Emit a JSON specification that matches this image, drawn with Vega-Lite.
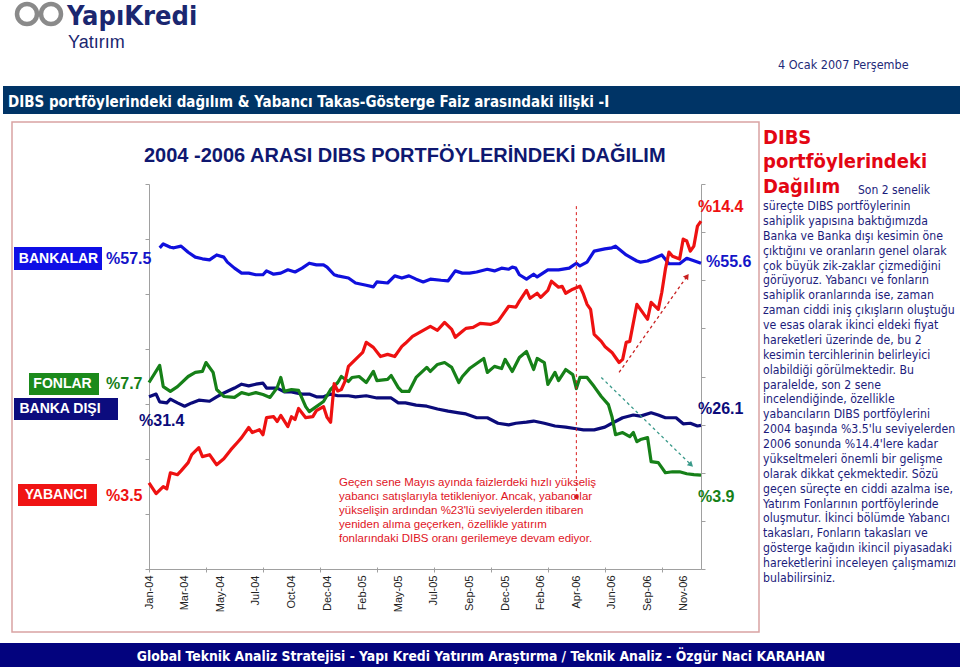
{
  "$schema": "https://vega.github.io/schema/vega-lite/v6.json",
  "width": 552,
  "height": 385,
  "autosize": {"type": "none"},
  "padding": {"left": 149, "top": 184, "right": 259, "bottom": 98},
  "background": "white",
  "config": {"view": {"stroke": null}, "font": "Liberation Sans", "axis": {"labelOverlap": false}},
  "data": {"values": [{}]},
  "datasets": {
    "series": [
      {"s":"BANKALAR","w":3,"v":58.4},{"s":"BANKALAR","w":4,"v":59.1},{"s":"BANKALAR","w":6,"v":58.5},{"s":"BANKALAR","w":7,"v":58.4},{"s":"BANKALAR","w":9,"v":58.7},{"s":"BANKALAR","w":11,"v":57.6},{"s":"BANKALAR","w":13,"v":56.7},{"s":"BANKALAR","w":15,"v":56.4},{"s":"BANKALAR","w":17,"v":56.2},{"s":"BANKALAR","w":19,"v":57.1},{"s":"BANKALAR","w":21,"v":56.7},{"s":"BANKALAR","w":22,"v":55.8},{"s":"BANKALAR","w":24,"v":54.7},{"s":"BANKALAR","w":26,"v":53.8},{"s":"BANKALAR","w":28,"v":53.8},{"s":"BANKALAR","w":30,"v":53.5},{"s":"BANKALAR","w":32,"v":53.5},{"s":"BANKALAR","w":33,"v":54.2},{"s":"BANKALAR","w":35,"v":53.6},{"s":"BANKALAR","w":37,"v":53.8},{"s":"BANKALAR","w":39,"v":54.4},{"s":"BANKALAR","w":41,"v":54.0},{"s":"BANKALAR","w":43,"v":54.7},{"s":"BANKALAR","w":45,"v":55.6},{"s":"BANKALAR","w":47,"v":55.3},{"s":"BANKALAR","w":49,"v":55.3},{"s":"BANKALAR","w":50,"v":54.9},{"s":"BANKALAR","w":52,"v":53.5},{"s":"BANKALAR","w":53,"v":53.3},{"s":"BANKALAR","w":56,"v":52.9},{"s":"BANKALAR","w":58,"v":52.0},{"s":"BANKALAR","w":61,"v":51.6},{"s":"BANKALAR","w":63,"v":51.3},{"s":"BANKALAR","w":64,"v":52.2},{"s":"BANKALAR","w":67,"v":52.0},{"s":"BANKALAR","w":69,"v":53.3},{"s":"BANKALAR","w":71,"v":52.9},{"s":"BANKALAR","w":73,"v":53.3},{"s":"BANKALAR","w":75,"v":52.7},{"s":"BANKALAR","w":77,"v":52.2},{"s":"BANKALAR","w":79,"v":52.7},{"s":"BANKALAR","w":82,"v":52.5},{"s":"BANKALAR","w":84,"v":52.4},{"s":"BANKALAR","w":86,"v":54.2},{"s":"BANKALAR","w":88,"v":53.8},{"s":"BANKALAR","w":90,"v":53.8},{"s":"BANKALAR","w":92,"v":54.0},{"s":"BANKALAR","w":95,"v":54.5},{"s":"BANKALAR","w":97,"v":54.2},{"s":"BANKALAR","w":99,"v":54.7},{"s":"BANKALAR","w":101,"v":54.5},{"s":"BANKALAR","w":102,"v":54.9},{"s":"BANKALAR","w":103,"v":54.7},{"s":"BANKALAR","w":104,"v":53.5},{"s":"BANKALAR","w":106,"v":52.7},{"s":"BANKALAR","w":108,"v":53.6},{"s":"BANKALAR","w":109,"v":53.1},{"s":"BANKALAR","w":112,"v":54.4},{"s":"BANKALAR","w":115,"v":54.4},{"s":"BANKALAR","w":118,"v":54.7},{"s":"BANKALAR","w":120,"v":55.6},{"s":"BANKALAR","w":121,"v":55.1},{"s":"BANKALAR","w":123,"v":55.8},{"s":"BANKALAR","w":125,"v":57.8},{"s":"BANKALAR","w":128,"v":58.2},{"s":"BANKALAR","w":130,"v":58.4},{"s":"BANKALAR","w":131,"v":58.7},{"s":"BANKALAR","w":134,"v":57.1},{"s":"BANKALAR","w":137,"v":56.0},{"s":"BANKALAR","w":138,"v":55.8},{"s":"BANKALAR","w":140,"v":56.0},{"s":"BANKALAR","w":144,"v":57.1},{"s":"BANKALAR","w":146,"v":55.5},{"s":"BANKALAR","w":149,"v":55.5},{"s":"BANKALAR","w":151,"v":56.5},{"s":"BANKALAR","w":155,"v":55.6},
      {"s":"BANKA DIŞI","w":0,"v":31.3},{"s":"BANKA DIŞI","w":2,"v":31.8},{"s":"BANKA DIŞI","w":3,"v":30.4},{"s":"BANKA DIŞI","w":5,"v":30.2},{"s":"BANKA DIŞI","w":6,"v":30.9},{"s":"BANKA DIŞI","w":8,"v":30.2},{"s":"BANKA DIŞI","w":10,"v":29.6},{"s":"BANKA DIŞI","w":12,"v":30.2},{"s":"BANKA DIŞI","w":14,"v":30.7},{"s":"BANKA DIŞI","w":17,"v":30.5},{"s":"BANKA DIŞI","w":19,"v":31.3},{"s":"BANKA DIŞI","w":21,"v":32.0},{"s":"BANKA DIŞI","w":24,"v":32.9},{"s":"BANKA DIŞI","w":26,"v":33.6},{"s":"BANKA DIŞI","w":28,"v":33.3},{"s":"BANKA DIŞI","w":30,"v":33.6},{"s":"BANKA DIŞI","w":32,"v":33.8},{"s":"BANKA DIŞI","w":33,"v":32.9},{"s":"BANKA DIŞI","w":36,"v":32.9},{"s":"BANKA DIŞI","w":38,"v":32.2},{"s":"BANKA DIŞI","w":40,"v":32.2},{"s":"BANKA DIŞI","w":43,"v":31.8},{"s":"BANKA DIŞI","w":45,"v":31.8},{"s":"BANKA DIŞI","w":47,"v":31.3},{"s":"BANKA DIŞI","w":49,"v":31.3},{"s":"BANKA DIŞI","w":51,"v":31.8},{"s":"BANKA DIŞI","w":53,"v":31.5},{"s":"BANKA DIŞI","w":56,"v":31.5},{"s":"BANKA DIŞI","w":58,"v":31.3},{"s":"BANKA DIŞI","w":61,"v":31.5},{"s":"BANKA DIŞI","w":64,"v":31.1},{"s":"BANKA DIŞI","w":68,"v":31.1},{"s":"BANKA DIŞI","w":70,"v":30.2},{"s":"BANKA DIŞI","w":72,"v":30.2},{"s":"BANKA DIŞI","w":75,"v":29.8},{"s":"BANKA DIŞI","w":78,"v":29.6},{"s":"BANKA DIŞI","w":81,"v":29.1},{"s":"BANKA DIŞI","w":84,"v":28.7},{"s":"BANKA DIŞI","w":87,"v":28.4},{"s":"BANKA DIŞI","w":89,"v":28.2},{"s":"BANKA DIŞI","w":92,"v":27.5},{"s":"BANKA DIŞI","w":95,"v":27.5},{"s":"BANKA DIŞI","w":98,"v":26.5},{"s":"BANKA DIŞI","w":101,"v":26.2},{"s":"BANKA DIŞI","w":103,"v":26.5},{"s":"BANKA DIŞI","w":106,"v":26.7},{"s":"BANKA DIŞI","w":108,"v":26.9},{"s":"BANKA DIŞI","w":111,"v":26.5},{"s":"BANKA DIŞI","w":114,"v":26.0},{"s":"BANKA DIŞI","w":117,"v":25.8},{"s":"BANKA DIŞI","w":120,"v":25.5},{"s":"BANKA DIŞI","w":122,"v":25.3},{"s":"BANKA DIŞI","w":125,"v":25.3},{"s":"BANKA DIŞI","w":128,"v":25.8},{"s":"BANKA DIŞI","w":130,"v":26.5},{"s":"BANKA DIŞI","w":133,"v":27.5},{"s":"BANKA DIŞI","w":136,"v":28.0},{"s":"BANKA DIŞI","w":138,"v":27.8},{"s":"BANKA DIŞI","w":141,"v":28.4},{"s":"BANKA DIŞI","w":143,"v":28.0},{"s":"BANKA DIŞI","w":145,"v":27.5},{"s":"BANKA DIŞI","w":148,"v":27.5},{"s":"BANKA DIŞI","w":150,"v":26.4},{"s":"BANKA DIŞI","w":152,"v":26.5},{"s":"BANKA DIŞI","w":154,"v":26.0},{"s":"BANKA DIŞI","w":155,"v":26.1},
      {"s":"FONLAR","w":0,"v":7.75},{"s":"FONLAR","w":3,"v":8.46},{"s":"FONLAR","w":4,"v":7.58},{"s":"FONLAR","w":6,"v":7.38},{"s":"FONLAR","w":8,"v":7.58},{"s":"FONLAR","w":11,"v":8.0},{"s":"FONLAR","w":13,"v":8.17},{"s":"FONLAR","w":15,"v":8.21},{"s":"FONLAR","w":16,"v":8.58},{"s":"FONLAR","w":18,"v":8.17},{"s":"FONLAR","w":19,"v":7.46},{"s":"FONLAR","w":21,"v":7.17},{"s":"FONLAR","w":24,"v":7.13},{"s":"FONLAR","w":26,"v":7.33},{"s":"FONLAR","w":28,"v":7.25},{"s":"FONLAR","w":30,"v":7.33},{"s":"FONLAR","w":32,"v":7.25},{"s":"FONLAR","w":34,"v":7.13},{"s":"FONLAR","w":36,"v":7.54},{"s":"FONLAR","w":37,"v":7.96},{"s":"FONLAR","w":38,"v":7.38},{"s":"FONLAR","w":40,"v":7.46},{"s":"FONLAR","w":42,"v":7.42},{"s":"FONLAR","w":44,"v":6.75},{"s":"FONLAR","w":45,"v":6.54},{"s":"FONLAR","w":47,"v":6.75},{"s":"FONLAR","w":49,"v":6.96},{"s":"FONLAR","w":51,"v":7.46},{"s":"FONLAR","w":53,"v":7.75},{"s":"FONLAR","w":54,"v":8.0},{"s":"FONLAR","w":56,"v":7.79},{"s":"FONLAR","w":57,"v":7.96},{"s":"FONLAR","w":59,"v":8.0},{"s":"FONLAR","w":61,"v":7.75},{"s":"FONLAR","w":63,"v":8.21},{"s":"FONLAR","w":64,"v":7.83},{"s":"FONLAR","w":67,"v":7.88},{"s":"FONLAR","w":68,"v":8.04},{"s":"FONLAR","w":70,"v":7.54},{"s":"FONLAR","w":71,"v":7.38},{"s":"FONLAR","w":73,"v":7.38},{"s":"FONLAR","w":75,"v":7.96},{"s":"FONLAR","w":78,"v":8.38},{"s":"FONLAR","w":79,"v":8.21},{"s":"FONLAR","w":81,"v":8.5},{"s":"FONLAR","w":83,"v":8.58},{"s":"FONLAR","w":85,"v":8.38},{"s":"FONLAR","w":87,"v":7.75},{"s":"FONLAR","w":88,"v":8.0},{"s":"FONLAR","w":90,"v":8.33},{"s":"FONLAR","w":92,"v":8.54},{"s":"FONLAR","w":94,"v":8.75},{"s":"FONLAR","w":95,"v":8.17},{"s":"FONLAR","w":97,"v":8.42},{"s":"FONLAR","w":99,"v":8.33},{"s":"FONLAR","w":100,"v":8.71},{"s":"FONLAR","w":102,"v":8.21},{"s":"FONLAR","w":104,"v":8.79},{"s":"FONLAR","w":106,"v":9.04},{"s":"FONLAR","w":108,"v":8.29},{"s":"FONLAR","w":109,"v":8.75},{"s":"FONLAR","w":111,"v":8.58},{"s":"FONLAR","w":112,"v":7.67},{"s":"FONLAR","w":114,"v":8.17},{"s":"FONLAR","w":115,"v":7.83},{"s":"FONLAR","w":117,"v":8.29},{"s":"FONLAR","w":119,"v":8.08},{"s":"FONLAR","w":120,"v":7.5},{"s":"FONLAR","w":121,"v":7.96},{"s":"FONLAR","w":123,"v":7.96},{"s":"FONLAR","w":125,"v":7.58},{"s":"FONLAR","w":127,"v":7.17},{"s":"FONLAR","w":129,"v":6.83},{"s":"FONLAR","w":130,"v":6.33},{"s":"FONLAR","w":131,"v":5.58},{"s":"FONLAR","w":133,"v":5.67},{"s":"FONLAR","w":135,"v":5.5},{"s":"FONLAR","w":136,"v":5.67},{"s":"FONLAR","w":137,"v":5.29},{"s":"FONLAR","w":138,"v":5.38},{"s":"FONLAR","w":140,"v":5.46},{"s":"FONLAR","w":141,"v":4.46},{"s":"FONLAR","w":143,"v":4.42},{"s":"FONLAR","w":144,"v":4.21},{"s":"FONLAR","w":145,"v":4.0},{"s":"FONLAR","w":147,"v":4.04},{"s":"FONLAR","w":149,"v":4.04},{"s":"FONLAR","w":151,"v":3.96},{"s":"FONLAR","w":153,"v":3.92},{"s":"FONLAR","w":155,"v":3.9},
      {"s":"YABANCI","w":0,"v":3.58},{"s":"YABANCI","w":2,"v":3.13},{"s":"YABANCI","w":4,"v":3.42},{"s":"YABANCI","w":5,"v":3.33},{"s":"YABANCI","w":6,"v":4.0},{"s":"YABANCI","w":8,"v":3.92},{"s":"YABANCI","w":9,"v":4.08},{"s":"YABANCI","w":11,"v":4.42},{"s":"YABANCI","w":12,"v":4.75},{"s":"YABANCI","w":14,"v":5.04},{"s":"YABANCI","w":15,"v":4.67},{"s":"YABANCI","w":17,"v":4.75},{"s":"YABANCI","w":18,"v":4.54},{"s":"YABANCI","w":19,"v":4.33},{"s":"YABANCI","w":21,"v":4.58},{"s":"YABANCI","w":23,"v":4.96},{"s":"YABANCI","w":25,"v":5.29},{"s":"YABANCI","w":26,"v":5.46},{"s":"YABANCI","w":28,"v":5.88},{"s":"YABANCI","w":29,"v":5.67},{"s":"YABANCI","w":31,"v":5.79},{"s":"YABANCI","w":32,"v":5.58},{"s":"YABANCI","w":33,"v":6.29},{"s":"YABANCI","w":35,"v":6.33},{"s":"YABANCI","w":36,"v":6.13},{"s":"YABANCI","w":37,"v":6.38},{"s":"YABANCI","w":39,"v":5.92},{"s":"YABANCI","w":40,"v":6.33},{"s":"YABANCI","w":41,"v":6.21},{"s":"YABANCI","w":42,"v":6.67},{"s":"YABANCI","w":44,"v":6.29},{"s":"YABANCI","w":46,"v":6.33},{"s":"YABANCI","w":47,"v":6.58},{"s":"YABANCI","w":49,"v":6.75},{"s":"YABANCI","w":50,"v":6.3},{"s":"YABANCI","w":51,"v":6.1},{"s":"YABANCI","w":52,"v":7.7},{"s":"YABANCI","w":53,"v":7.4},{"s":"YABANCI","w":54,"v":7.46},{"s":"YABANCI","w":55,"v":7.79},{"s":"YABANCI","w":56,"v":8.42},{"s":"YABANCI","w":58,"v":8.71},{"s":"YABANCI","w":60,"v":9.0},{"s":"YABANCI","w":61,"v":9.42},{"s":"YABANCI","w":63,"v":9.21},{"s":"YABANCI","w":65,"v":8.83},{"s":"YABANCI","w":67,"v":8.92},{"s":"YABANCI","w":69,"v":8.83},{"s":"YABANCI","w":71,"v":9.25},{"s":"YABANCI","w":72,"v":9.38},{"s":"YABANCI","w":74,"v":9.67},{"s":"YABANCI","w":77,"v":9.92},{"s":"YABANCI","w":79,"v":10.08},{"s":"YABANCI","w":81,"v":9.92},{"s":"YABANCI","w":83,"v":10.25},{"s":"YABANCI","w":85,"v":9.96},{"s":"YABANCI","w":86,"v":9.63},{"s":"YABANCI","w":88,"v":9.88},{"s":"YABANCI","w":89,"v":10.0},{"s":"YABANCI","w":91,"v":10.04},{"s":"YABANCI","w":93,"v":10.21},{"s":"YABANCI","w":96,"v":10.17},{"s":"YABANCI","w":98,"v":10.29},{"s":"YABANCI","w":99,"v":10.5},{"s":"YABANCI","w":101,"v":10.92},{"s":"YABANCI","w":103,"v":10.88},{"s":"YABANCI","w":104,"v":11.13},{"s":"YABANCI","w":106,"v":11.58},{"s":"YABANCI","w":107,"v":11.25},{"s":"YABANCI","w":109,"v":11.46},{"s":"YABANCI","w":110,"v":11.29},{"s":"YABANCI","w":112,"v":11.58},{"s":"YABANCI","w":113,"v":11.96},{"s":"YABANCI","w":115,"v":11.71},{"s":"YABANCI","w":116,"v":11.75},{"s":"YABANCI","w":117,"v":11.46},{"s":"YABANCI","w":119,"v":11.63},{"s":"YABANCI","w":121,"v":11.75},{"s":"YABANCI","w":122,"v":11.42},{"s":"YABANCI","w":123,"v":11.0},{"s":"YABANCI","w":124,"v":10.79},{"s":"YABANCI","w":125,"v":9.75},{"s":"YABANCI","w":127,"v":9.46},{"s":"YABANCI","w":128,"v":9.25},{"s":"YABANCI","w":130,"v":9.0},{"s":"YABANCI","w":131,"v":8.79},{"s":"YABANCI","w":132,"v":8.58},{"s":"YABANCI","w":133,"v":8.71},{"s":"YABANCI","w":134,"v":9.42},{"s":"YABANCI","w":135,"v":9.46},{"s":"YABANCI","w":137,"v":11.0},{"s":"YABANCI","w":138,"v":10.79},{"s":"YABANCI","w":139,"v":10.58},{"s":"YABANCI","w":140,"v":10.38},{"s":"YABANCI","w":141,"v":11.08},{"s":"YABANCI","w":143,"v":10.79},{"s":"YABANCI","w":144,"v":11.5},{"s":"YABANCI","w":145,"v":12.46},{"s":"YABANCI","w":146,"v":13.17},{"s":"YABANCI","w":147,"v":13.0},{"s":"YABANCI","w":149,"v":12.88},{"s":"YABANCI","w":150,"v":13.71},{"s":"YABANCI","w":151,"v":13.63},{"s":"YABANCI","w":152,"v":13.21},{"s":"YABANCI","w":153,"v":13.42},{"s":"YABANCI","w":154,"v":14.25},{"s":"YABANCI","w":155,"v":14.46}
    ]
  },
  "layer": [
    {"mark": {"type": "rule", "x": -145, "x2": 611, "y": -112, "color": "#333333", "strokeWidth": 1}, "encoding": {}},
    {"mark": {"type": "rule", "x": 776, "x2": 811, "y": -112, "color": "#333333", "strokeWidth": 1}, "encoding": {}},
    {"mark": {"type": "rect", "x": -146, "x2": 811, "y": -98, "y2": -70, "fill": "#003466"}, "encoding": {}},
    {"mark": {"type": "text", "x": -141, "y": -77, "text": "DIBS portföylerindeki dağılım & Yabancı Takas-Gösterge Faiz arasındaki ilişki -I", "align": "left", "baseline": "alphabetic", "font": "DejaVu Sans Condensed", "fontSize": 15, "fontWeight": "bold", "color": "#ffffff"}},
    {"mark": {"type": "rect", "x": -137, "x2": 610, "y": -62, "y2": 448, "fill": "transparent", "stroke": "#d9a3a3", "strokeWidth": 1.5}, "encoding": {}},
    {"mark": {"type": "rect", "x": -149, "x2": 811, "y": 459, "y2": 483, "fill": "#03037e"}, "encoding": {}},
    {"mark": {"type": "text", "x": 332, "y": 477, "text": "Global Teknik Analiz Stratejisi - Yapı Kredi Yatırım Araştırma / Teknik Analiz  - Özgür Naci KARAHAN", "align": "center", "baseline": "alphabetic", "font": "DejaVu Sans Condensed", "fontSize": 13.8, "fontWeight": "bold", "color": "#ffffff"}},
    {"mark": {"type": "point", "x": -122, "y": -170, "shape": "circle", "size": 400, "filled": false, "stroke": "#8a8a8a", "strokeWidth": 4.5, "opacity": 1}},
    {"mark": {"type": "point", "x": -98, "y": -170, "shape": "circle", "size": 400, "filled": false, "stroke": "#8a8a8a", "strokeWidth": 4.5, "opacity": 1}},
    {"mark": {"type": "text", "x": -82, "y": -159, "text": "YapıKredi", "align": "left", "baseline": "alphabetic", "font": "Liberation Sans Narrow, DejaVu Sans Condensed", "fontSize": 27, "fontWeight": "bold", "color": "#1b2770"}},
    {"mark": {"type": "text", "x": -81, "y": -136, "text": "Yatırım", "align": "left", "baseline": "alphabetic", "font": "Liberation Sans", "fontSize": 18, "color": "#1b2770"}},
    {"mark": {"type": "text", "x": 629, "y": -115, "text": "4 Ocak 2007 Perşembe", "align": "left", "baseline": "alphabetic", "font": "DejaVu Sans Condensed", "fontSize": 12.5, "color": "#1e2a78"}},
    {"mark": {"type": "text", "x": -5, "y": -22, "text": "2004 -2006 ARASI DIBS PORTFÖYLERİNDEKİ DAĞILIM", "align": "left", "baseline": "alphabetic", "font": "Liberation Sans", "fontSize": 20, "fontWeight": "bold", "color": "#0f1870"}},
    {"mark": {"type": "rect", "x": -135, "x2": -47, "y": 63, "y2": 86, "fill": "#0f0fe6"}, "encoding": {}},
    {"mark": {"type": "text", "x": -90.5, "y": 75, "text": "BANKALAR", "align": "center", "baseline": "middle", "fontSize": 14, "fontWeight": "bold", "color": "#ffffff"}},
    {"mark": {"type": "text", "x": -43, "y": 80, "text": "%57.5", "align": "left", "baseline": "alphabetic", "fontSize": 16, "fontWeight": "bold", "color": "#1414c8"}},
    {"mark": {"type": "rect", "x": -120, "x2": -50, "y": 189, "y2": 211, "fill": "#1b8a1b"}, "encoding": {}},
    {"mark": {"type": "text", "x": -86.5, "y": 200, "text": "FONLAR", "align": "center", "baseline": "middle", "fontSize": 14, "fontWeight": "bold", "color": "#ffffff"}},
    {"mark": {"type": "text", "x": -43, "y": 205, "text": "%7.7", "align": "left", "baseline": "alphabetic", "fontSize": 16, "fontWeight": "bold", "color": "#168018"}},
    {"mark": {"type": "rect", "x": -135, "x2": -31, "y": 214, "y2": 236, "fill": "#0c0c7e"}, "encoding": {}},
    {"mark": {"type": "text", "x": -89, "y": 225, "text": "BANKA DIŞI", "align": "center", "baseline": "middle", "fontSize": 14, "fontWeight": "bold", "color": "#ffffff"}},
    {"mark": {"type": "text", "x": -10, "y": 242, "text": "%31.4", "align": "left", "baseline": "alphabetic", "fontSize": 16, "fontWeight": "bold", "color": "#0b0b7a"}},
    {"mark": {"type": "rect", "x": -131, "x2": -52, "y": 300, "y2": 322, "fill": "#f01414"}, "encoding": {}},
    {"mark": {"type": "text", "x": -93, "y": 311, "text": "YABANCI", "align": "center", "baseline": "middle", "fontSize": 14, "fontWeight": "bold", "color": "#ffffff"}},
    {"mark": {"type": "text", "x": -43, "y": 317, "text": "%3.5", "align": "left", "baseline": "alphabetic", "fontSize": 16, "fontWeight": "bold", "color": "#ee1111"}},
    {"mark": {"type": "text", "x": 549, "y": 28, "text": "%14.4", "align": "left", "baseline": "alphabetic", "fontSize": 16, "fontWeight": "bold", "color": "#ee1111"}},
    {"mark": {"type": "text", "x": 557, "y": 83, "text": "%55.6", "align": "left", "baseline": "alphabetic", "fontSize": 16, "fontWeight": "bold", "color": "#1414c8"}},
    {"mark": {"type": "text", "x": 549, "y": 230, "text": "%26.1", "align": "left", "baseline": "alphabetic", "fontSize": 16, "fontWeight": "bold", "color": "#0b0b7a"}},
    {"mark": {"type": "text", "x": 549, "y": 318, "text": "%3.9", "align": "left", "baseline": "alphabetic", "fontSize": 16, "fontWeight": "bold", "color": "#168018"}},
    {"mark": {"type": "text", "x": 190, "y": 302, "text": ["Geçen sene Mayıs ayında faizlerdeki hızlı yükseliş", "yabancı satışlarıyla tetikleniyor. Ancak, yabancılar", "yükselişin ardından %23'lü seviyelerden itibaren", "yeniden alıma geçerken, özellikle yatırım", "fonlarındaki DIBS oranı gerilemeye devam ediyor."], "lineHeight": 14, "align": "left", "baseline": "alphabetic", "fontSize": 11.5, "color": "#e0141e"}},
    {"mark": {"type": "text", "x": 614, "y": -40, "text": "DIBS", "align": "left", "baseline": "alphabetic", "font": "DejaVu Sans Condensed", "fontSize": 20, "fontWeight": "bold", "color": "#e30613"}},
    {"mark": {"type": "text", "x": 614, "y": -16, "text": "portföylerindeki", "align": "left", "baseline": "alphabetic", "font": "DejaVu Sans Condensed", "fontSize": 20, "fontWeight": "bold", "color": "#e30613"}},
    {"mark": {"type": "text", "x": 614, "y": 9, "text": "Dağılım", "align": "left", "baseline": "alphabetic", "font": "DejaVu Sans Condensed", "fontSize": 20, "fontWeight": "bold", "color": "#e30613"}},
    {"mark": {"type": "text", "x": 709, "y": 10, "text": "Son  2  senelik", "align": "left", "baseline": "alphabetic", "font": "DejaVu Sans Condensed", "fontSize": 12, "color": "#1c1c7c"}},
    {"mark": {"type": "text", "x": 614, "y": 26, "text": ["süreçte DIBS portföylerinin", "sahiplik yapısına baktığımızda", "Banka ve Banka dışı kesimin öne", "çıktığını ve oranların genel olarak", "çok büyük zik-zaklar çizmediğini", "görüyoruz. Yabancı ve fonların", "sahiplik oranlarında ise, zaman", "zaman ciddi iniş çıkışların oluştuğu", "ve esas olarak ikinci eldeki fiyat", "hareketleri üzerinde de, bu 2", "kesimin tercihlerinin belirleyici", "olabildiği görülmektedir. Bu", "paralelde, son 2 sene", "incelendiğinde, özellikle", "yabancıların DIBS portföylerini", "2004 başında %3.5'lu seviyelerden", "2006 sonunda %14.4'lere kadar", "yükseltmeleri önemli bir gelişme", "olarak dikkat çekmektedir. Sözü", "geçen süreçte en ciddi azalma ise,", "Yatırım Fonlarının portföylerinde", "oluşmutur. İkinci bölümde Yabancı", "takasları, Fonların takasları ve", "gösterge kağıdın ikincil piyasadaki", "hareketlerini inceleyen çalışmamızı", "bulabilirsiniz."], "lineHeight": 14.88, "align": "left", "baseline": "alphabetic", "font": "DejaVu Sans Condensed", "fontSize": 12.2, "color": "#1c1c7c"}},
    {
      "data": {"name": "series"},
      "transform": [{"filter": "datum.s === 'BANKALAR' || datum.s === 'BANKA DIŞI'"}],
      "mark": {"type": "line", "strokeWidth": 3.2, "strokeJoin": "round"},
      "encoding": {
        "x": {"field": "w", "type": "quantitative", "scale": {"domain": [0, 155], "nice": false, "zero": false},
          "axis": {"orient": "bottom", "values": [0,10,20,30,40,50,60,70,80,90,100,110,120,130,140,150],
            "labelExpr": "['Jan-04','Mar-04','May-04','Jul-04','Oct-04','Dec-04','Feb-05','May-05','Jul-05','Sep-05','Dec-05','Feb-06','Apr-06','Jun-06','Sep-06','Nov-06'][round(datum.value / 10)]",
            "labelAngle": 270, "labelFontSize": 11, "labelFont": "Liberation Sans", "labelColor": "#222222", "labelPadding": 6, "labelOverlap": false, "labelSeparation": -40, "labelBound": false, "labelFlush": false,
            "ticks": false, "domainColor": "#a0a0a0", "grid": false, "title": null}},
        "y": {"field": "v", "type": "quantitative", "scale": {"domain": [0, 70], "nice": false},
          "axis": {"orient": "left", "values": [0,10,20,30,40,50,60,70], "labels": false, "title": null, "grid": false, "domainColor": "#a0a0a0", "tickColor": "#a0a0a0", "tickSize": 4}},
        "color": {"field": "s", "type": "nominal", "scale": {"domain": ["BANKALAR", "BANKA DIŞI", "FONLAR", "YABANCI"], "range": ["#1010dd", "#0b0b7a", "#168018", "#ee1111"]}, "legend": null}
      }
    },
    {
      "layer": [
        {
          "data": {"name": "series"},
          "transform": [{"filter": "datum.s === 'FONLAR' || datum.s === 'YABANCI'"}],
          "mark": {"type": "line", "strokeWidth": 3.2, "strokeJoin": "round"},
          "encoding": {
            "x": {"field": "w", "type": "quantitative",
              "axis": {"orient": "bottom", "values": [0,1,2,3,4,5,6,7,8,9,10,11,12,13,14,15,16,17,18,19,20,21,22,23,24,25,26,27,28,29,30,31,32,33,34,35,36,37,38,39,40,41,42,43,44,45,46,47,48,49,50,51,52,53,54,55,56,57,58,59,60,61,62,63,64,65,66,67,68,69,70,71,72,73,74,75,76,77,78,79,80,81,82,83,84,85,86,87,88,89,90,91,92,93,94,95,96,97,98,99,100,101,102,103,104,105,106,107,108,109,110,111,112,113,114,115,116,117,118,119,120,121,122,123,124,125,126,127,128,129,130,131,132,133,134,135,136,137,138,139,140,141,142,143,144,145,146,147,148,149,150,151,152,153,154,155],
                "labels": false, "domain": false, "tickSize": 5, "offset": -2, "tickColor": "#a0a0a0", "grid": false, "title": null}},
            "y": {"field": "v", "type": "quantitative", "scale": {"domain": [0, 16], "nice": false},
              "axis": {"orient": "right", "values": [0,2,4,6,8,10,12,14,16], "labels": false, "title": null, "grid": false, "domainColor": "#a0a0a0", "tickColor": "#a0a0a0", "tickSize": 4}},
            "color": {"field": "s", "type": "nominal", "legend": null}
          }
        },
        {
          "mark": {"type": "rule", "color": "#d81b1b", "strokeDash": [3, 3], "strokeWidth": 1},
          "encoding": {"x": {"datum": 120, "type": "quantitative"}, "y": {"datum": 15.08, "type": "quantitative"}, "y2": {"datum": 3.0}}
        },
        {
          "mark": {"type": "point", "filled": true, "color": "#d81b1b", "size": 22, "opacity": 1},
          "encoding": {"x": {"datum": 120, "type": "quantitative"}, "y": {"datum": 3.0, "type": "quantitative"}}
        },
        {
          "mark": {"type": "rule", "color": "#c82020", "strokeDash": [3, 3], "strokeWidth": 1.3},
          "encoding": {"x": {"datum": 132, "type": "quantitative"}, "y": {"datum": 8.17, "type": "quantitative"}, "x2": {"datum": 151.1}, "y2": {"datum": 12.17}}
        },
        {
          "mark": {"type": "point", "shape": "triangle-up", "filled": true, "color": "#c82020", "size": 40, "angle": 35, "opacity": 1},
          "encoding": {"x": {"datum": 151.1, "type": "quantitative"}, "y": {"datum": 12.17, "type": "quantitative"}}
        },
        {
          "mark": {"type": "rule", "color": "#3a9a8a", "strokeDash": [3, 3], "strokeWidth": 1.3},
          "encoding": {"x": {"datum": 127, "type": "quantitative"}, "y": {"datum": 7.96, "type": "quantitative"}, "x2": {"datum": 152.2}, "y2": {"datum": 4.33}}
        },
        {
          "mark": {"type": "point", "shape": "triangle-up", "filled": true, "color": "#3a9a8a", "size": 40, "angle": 134, "opacity": 1},
          "encoding": {"x": {"datum": 152.2, "type": "quantitative"}, "y": {"datum": 4.33, "type": "quantitative"}}
        }
      ]
    }
  ],
  "resolve": {"scale": {"y": "independent"}, "axis": {"y": "independent", "x": "independent"}}
}
